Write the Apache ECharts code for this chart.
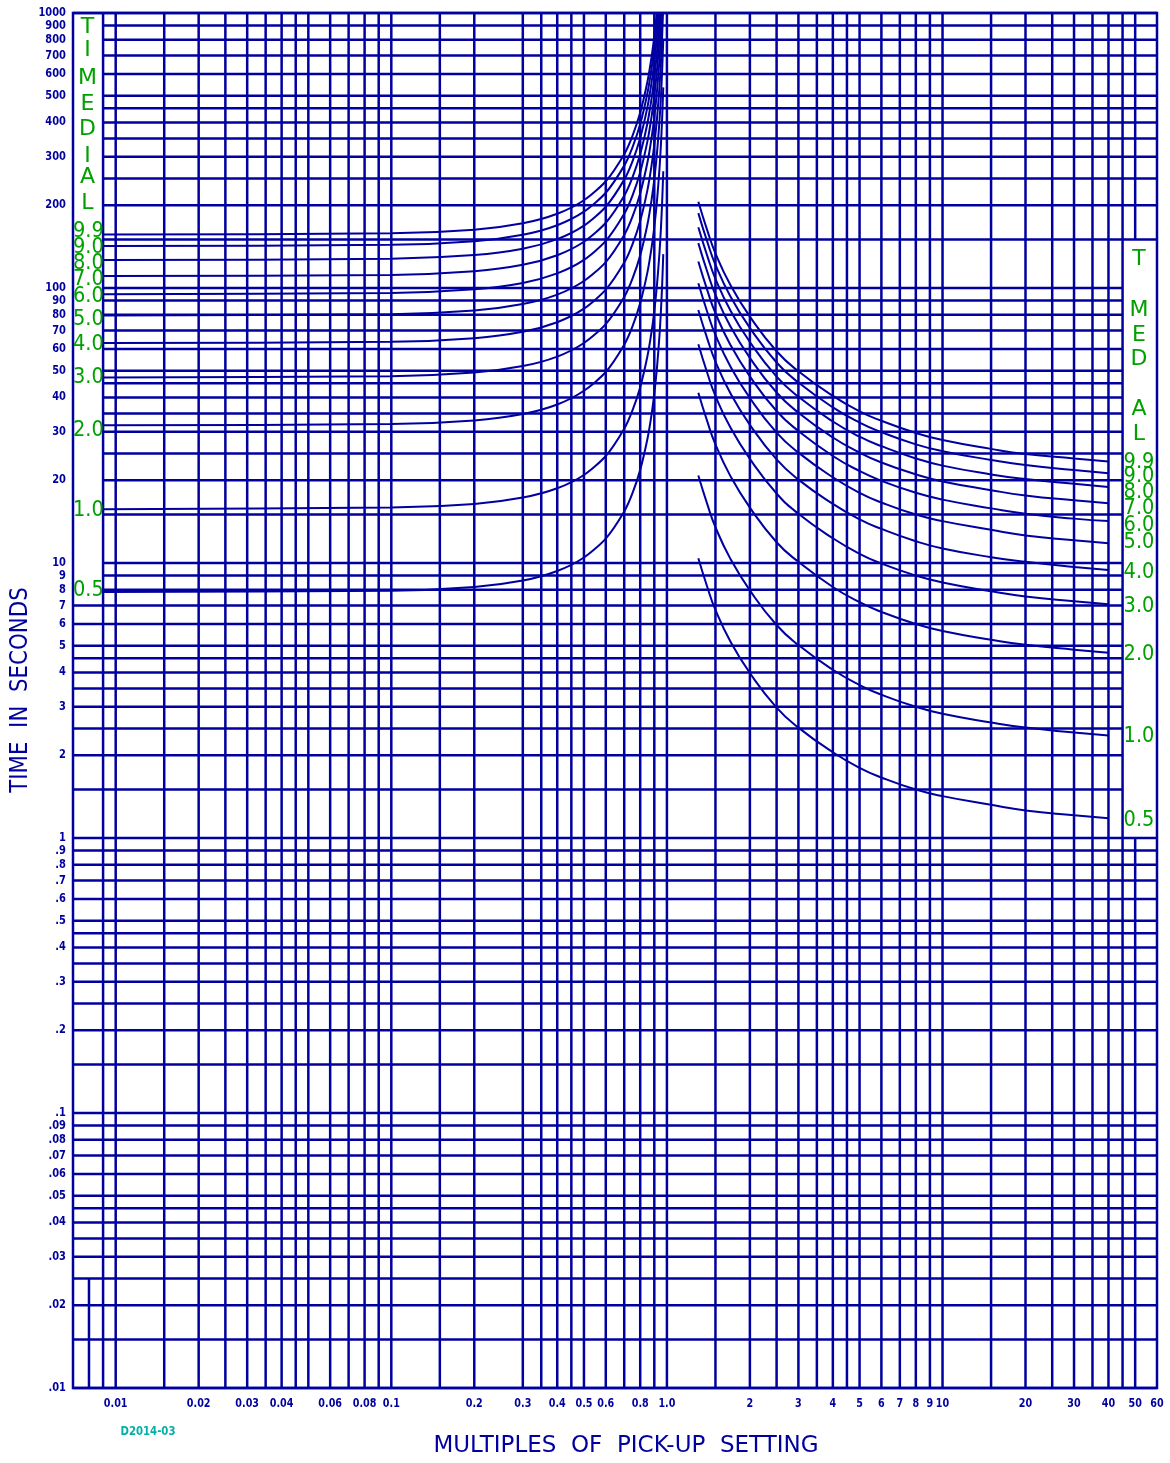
<!DOCTYPE html>
<html><head><meta charset="utf-8">
<script src="https://cdn.jsdelivr.net/npm/echarts@6/dist/echarts.min.js"></script>
<style>html,body{margin:0;padding:0;background:#fff}#c{width:1170px;height:1463px}</style>
</head><body><div id="c"></div>
<script>
// ---------- axis ranges ----------
const X_MIN = 0.007, X_MAX = 60, Y_MIN = 0.01, Y_MAX = 1000;

// ---------- tick labels ----------
const xTickValues = [0.01,0.02,0.03,0.04,0.06,0.08,0.1,0.2,0.3,0.4,0.5,0.6,0.8,1,2,3,4,5,6,7,8,9,10,20,30,40,50,60];
const xTickLabels = ['0.01','0.02','0.03','0.04','0.06','0.08','0.1','0.2','0.3','0.4','0.5','0.6','0.8','1.0','2','3','4','5','6','7','8','9','10','20','30','40','50','60'];
const yTickValues = [1000,900,800,700,600,500,400,300,200,100,90,80,70,60,50,40,30,20,10,9,8,7,6,5,4,3,2,1,0.9,0.8,0.7,0.6,0.5,0.4,0.3,0.2,0.1,0.09,0.08,0.07,0.06,0.05,0.04,0.03,0.02,0.01];
const yTickLabels = ['1000','900','800','700','600','500','400','300','200','100','90','80','70','60','50','40','30','20','10','9','8','7','6','5','4','3','2','1','.9','.8','.7','.6','.5','.4','.3','.2','.1','.09','.08','.07','.06','.05','.04','.03','.02','.01'];

// ---------- grid line values ----------
const xGridLines = [0.008,0.009,0.01,0.015,0.02,0.025,0.03,0.035,0.04,0.045,0.05,0.06,0.07,0.08,0.09,
  0.1,0.15,0.2,0.3,0.35,0.4,0.45,0.5,0.6,0.7,0.8,0.9,
  1,1.5,2,2.5,3,3.5,4,4.5,5,6,7,8,9,
  10,15,20,25,30,35,40,45,50];
const yGridLines = [0.01,0.015,0.02,0.025,0.03,0.035,0.04,0.045,0.05,0.06,0.07,0.08,0.09,
  0.1,0.15,0.2,0.25,0.3,0.35,0.4,0.45,0.5,0.6,0.7,0.8,0.9,
  1,1.5,2,2.5,3,3.5,4,4.5,5,6,7,8,9,
  10,15,20,25,30,35,40,45,50,60,70,80,90,
  100,150,200,250,300,350,400,450,500,600,700,800,900,1000];

// ---------- time dial settings ----------
const dialSettings = ['9.9','9.0','8.0','7.0','6.0','5.0','4.0','3.0','2.0','1.0','0.5'];

// ---------- reset curves (multiples below pick-up) ----------
const resetMultiples = [0.009,0.1,0.2,0.3,0.4,0.5,0.6,0.7,0.75,0.8,0.85,0.88,0.9,0.92,0.94,0.95,0.96,0.97];
const reset99 = [156.4,158.0,162.9,171.9,186.2,208.5,244.4,306.7,357.5,434.4,563.6,693.3,823.2,1018,1344,1604,1995,2646];
const reset90 = [142.1,143.5,148.0,156.2,169.2,189.5,222.0,278.6,324.8,394.7,512.1,629.9,747.9,925.1,1221,1457,1812,2404];
const reset80 = [126.4,127.7,131.7,138.9,150.5,168.5,197.5,247.8,288.9,351.1,455.5,560.3,665.3,822.9,1086,1296,1612,2139];
const reset70 = [110.5,111.6,115.1,121.4,131.6,147.3,172.7,216.7,252.6,306.9,398.2,489.8,581.6,719.4,949.3,1133,1409,1870];
const reset60 = [94.9,95.9,98.9,104.3,113.0,126.5,148.3,186.1,216.9,263.6,342.0,420.7,499.5,617.8,815.3,973.3,1210,1606];
const reset50 = [79.5,80.3,82.8,87.4,94.6,106.0,124.2,155.9,181.7,220.8,286.5,352.4,418.4,517.6,683.0,815.4,1014,1345];
const reset40 = [63.1,63.7,65.7,69.3,75.1,84.1,98.6,123.7,144.2,175.3,227.4,279.7,332.1,410.8,542.1,647.2,804.8,1068];
const reset30 = [47.3,47.8,49.3,52.0,56.3,63.1,73.9,92.7,108.1,131.4,170.5,209.7,249.0,307.9,406.4,485.1,603.3,800.3];
const reset20 = [31.7,32.0,33.0,34.8,37.7,42.3,49.5,62.2,72.5,88.1,114.2,140.5,166.8,206.4,272.3,325.1,404.3,536.4];
const reset10 = [15.7,15.9,16.4,17.3,18.7,20.9,24.5,30.8,35.9,43.6,56.6,69.6,82.6,102.2,134.9,161.0,200.3,265.6];
const reset05 = [7.85,7.93,8.18,8.63,9.35,10.47,12.27,15.39,17.94,21.81,28.29,34.80,41.32,51.11,67.44,80.51,100.1,132.8];

// ---------- trip curves (multiples above pick-up) ----------
const tripMultiples = [1.3,1.4,1.5,1.7,2,2.5,3,4,5,6,8,10,15,20,30,40];
const trip99 = [205.9,162.4,133.7,102.5,78.7,58.9,49.8,40.5,35.6,32.9,29.7,28.0,26.0,24.9,24.0,23.4];
const trip90 = [187.2,147.6,121.5,93.2,71.6,53.6,45.3,36.8,32.4,29.9,27.0,25.5,23.7,22.7,21.8,21.2];
const trip80 = [166.4,131.2,108.0,82.8,63.6,47.6,40.2,32.7,28.8,26.6,24.0,22.6,21.0,20.2,19.4,18.9];
const trip70 = [145.6,114.8,94.5,72.5,55.7,41.7,35.2,28.6,25.2,23.2,21.0,19.8,18.4,17.6,16.9,16.5];
const trip60 = [124.8,98.4,81.0,62.1,47.7,35.7,30.2,24.5,21.6,19.9,18.0,17.0,15.8,15.1,14.5,14.2];
const trip50 = [104.0,82.0,67.5,51.8,39.8,29.8,25.2,20.5,18.0,16.6,15.0,14.2,13.2,12.6,12.1,11.8];
const trip40 = [83.2,65.6,54.0,41.4,31.8,23.8,20.1,16.4,14.4,13.3,12.0,11.3,10.5,10.1,9.68,9.44];
const trip30 = [62.4,49.2,40.5,31.1,23.9,17.9,15.1,12.3,10.8,9.96,9.0,8.49,7.89,7.56,7.26,7.08];
const trip20 = [41.6,32.8,27.0,20.7,15.9,11.9,10.1,8.18,7.2,6.64,6.0,5.66,5.26,5.04,4.84,4.72];
const trip10 = [20.8,16.4,13.5,10.35,7.95,5.95,5.03,4.09,3.6,3.32,3.0,2.83,2.63,2.52,2.42,2.36];
const trip05 = [10.4,8.2,6.75,5.18,3.98,2.98,2.52,2.05,1.8,1.66,1.5,1.42,1.32,1.26,1.21,1.18];

const resetCurves = [reset99,reset90,reset80,reset70,reset60,reset50,reset40,reset30,reset20,reset10,reset05];
const tripCurves  = [trip99,trip90,trip80,trip70,trip60,trip50,trip40,trip30,trip20,trip10,trip05];

// ---------- styles / layout ----------
const BLUE = '#0000a0', GREEN = '#00a000', TEAL = '#00b0a8';
const GRID_W = 2.5, CURVE_W = 2;
const leftNudge  = [-3, 1, 3, 3, 2, 4, 1, 0, 5, 1, -2];
const rightNudge = [1, 3, 5, 5, 4, -1, 2, 2, 2, 1, 2];
const DIAL_FONT = '22px "DejaVu Sans"';

function seg(api, a, b) {
  const p = api.coord(a), q = api.coord(b);
  return {type:'line', shape:{x1:p[0], y1:p[1], x2:q[0], y2:q[1]}, style:{stroke:BLUE, lineWidth:GRID_W}};
}
function vGrid(params, api) {
  const u = api.value(0);
  let spans;
  if (u < 0.0085) spans = [[0.01, 0.025]];
  else if (u > 47) spans = [[Y_MIN, 1], [150, Y_MAX]];
  else spans = [[Y_MIN, Y_MAX]];
  return {type:'group', children: spans.map(s => seg(api, [u, s[0]], [u, s[1]]))};
}
function hGrid(params, api) {
  const v = api.value(1);
  const x1 = (v > 7.01 && v < 999) ? 0.009 : X_MIN;
  const x2 = (v > 1.01 && v < 149) ? 45 : X_MAX;
  return seg(api, [x1, v], [x2, v]);
}
function yLabel(params, api) {
  const p = api.coord([api.value(0), api.value(1)]);
  return {type:'text', x:p[0]-7, y:p[1], scaleX:0.86,
    style:{text:yTickLabels[params.dataIndex], font:'bold 11.5px "DejaVu Sans"', fill:BLUE, align:'right', verticalAlign:'middle'}};
}
function xLabel(params, api) {
  const p = api.coord([api.value(0), api.value(1)]);
  return {type:'text', x:p[0], y:p[1]+16, scaleX:0.8,
    style:{text:xTickLabels[params.dataIndex], font:'bold 12px "DejaVu Sans"', fill:BLUE, align:'center', verticalAlign:'middle'}};
}
function leftDial(params, api) {
  const i = params.dataIndex;
  const p = api.coord([X_MIN, api.value(1)]);
  return {type:'text', x:p[0], y:p[1]+leftNudge[i], scaleX:0.88,
    style:{text:dialSettings[i], font:DIAL_FONT, fill:GREEN, align:'left', verticalAlign:'middle'}};
}
function rightDial(params, api) {
  const i = params.dataIndex;
  const p = api.coord([45, api.value(1)]);
  return {type:'text', x:p[0]+1, y:p[1]+rightNudge[i], scaleX:0.88,
    style:{text:dialSettings[i], font:DIAL_FONT, fill:GREEN, align:'left', verticalAlign:'middle'}};
}

const series = [
  {type:'custom', name:'vgrid', z:1, silent:true, data:xGridLines.map(v=>[v, Y_MIN]), renderItem:vGrid},
  {type:'custom', name:'hgrid', z:1, silent:true, data:yGridLines.map(v=>[X_MIN, v]), renderItem:hGrid},
];
resetCurves.forEach((arr, k) => series.push({
  type:'line', name:'reset '+dialSettings[k], z:3, silent:true, showSymbol:false, symbol:'none', clip:true,
  smooth:0.25,
  data: resetMultiples.map((m, i) => [m, arr[i]]), lineStyle:{color:BLUE, width:CURVE_W}
}));
tripCurves.forEach((arr, k) => series.push({
  type:'line', name:'trip '+dialSettings[k], z:3, silent:true, showSymbol:false, symbol:'none', clip:true,
  smooth:0.5,
  data: tripMultiples.map((m, i) => [m, arr[i]]), lineStyle:{color:BLUE, width:CURVE_W}
}));
series.push({type:'custom', z:5, silent:true, clip:false, data:yTickValues.map(v=>[X_MIN, v]), renderItem:yLabel});
series.push({type:'custom', z:5, silent:true, clip:false, data:xTickValues.map(v=>[v, Y_MIN]), renderItem:xLabel});
series.push({type:'custom', z:6, silent:true, clip:false, data:resetCurves.map(a=>[X_MIN, a[0]]), renderItem:leftDial});
series.push({type:'custom', z:6, silent:true, clip:false, data:tripCurves.map(a=>[45, a[a.length-1]]), renderItem:rightDial});

const leftLetters  = [['T',27.7],['I',50.3],['M',78],['E',104],['D',129],['I',156],['A',177.5],['L',203]];
const rightLetters = [['T',259],['M',310],['E',335],['D',359],['A',409],['L',434]];
const graphics = [];
leftLetters.forEach(([t, y]) => graphics.push({type:'text', x:87.5, y:y, z:100,
  style:{text:t, font:'22px "DejaVu Sans"', fill:GREEN, align:'center', verticalAlign:'middle'}}));
rightLetters.forEach(([t, y]) => graphics.push({type:'text', x:1139, y:y, z:100,
  style:{text:t, font:'22px "DejaVu Sans"', fill:GREEN, align:'center', verticalAlign:'middle'}}));
graphics.push({type:'text', x:21, y:690, rotation:Math.PI/2, scaleX:0.89, z:100,
  style:{text:'TIME  IN  SECONDS', font:'24px "DejaVu Sans"', fill:BLUE, align:'center', verticalAlign:'middle'}});
graphics.push({type:'text', x:626, y:1446, z:100,
  style:{text:'MULTIPLES  OF  PICK-UP  SETTING', font:'23px "DejaVu Sans"', fill:BLUE, align:'center', verticalAlign:'middle'}});
graphics.push({type:'text', x:148, y:1432, scaleX:0.78, z:100,
  style:{text:'D2014-03', font:'bold 13px "DejaVu Sans"', fill:TEAL, align:'center', verticalAlign:'middle'}});

const chart = echarts.init(document.getElementById('c'), null, {renderer:'canvas'});
chart.setOption({
  animation:false,
  backgroundColor:'#ffffff',
  grid:{left:73, right:13, top:13, bottom:75, show:true, borderColor:BLUE, borderWidth:2.5, backgroundColor:'transparent'},
  xAxis:{type:'log', logBase:10, min:X_MIN, max:X_MAX, axisLine:{show:false}, axisTick:{show:false}, axisLabel:{show:false}, splitLine:{show:false}, minorSplitLine:{show:false}},
  yAxis:{type:'log', logBase:10, min:Y_MIN, max:Y_MAX, axisLine:{show:false}, axisTick:{show:false}, axisLabel:{show:false}, splitLine:{show:false}, minorSplitLine:{show:false}},
  series: series,
  graphic: graphics
});
</script>
</body></html>
